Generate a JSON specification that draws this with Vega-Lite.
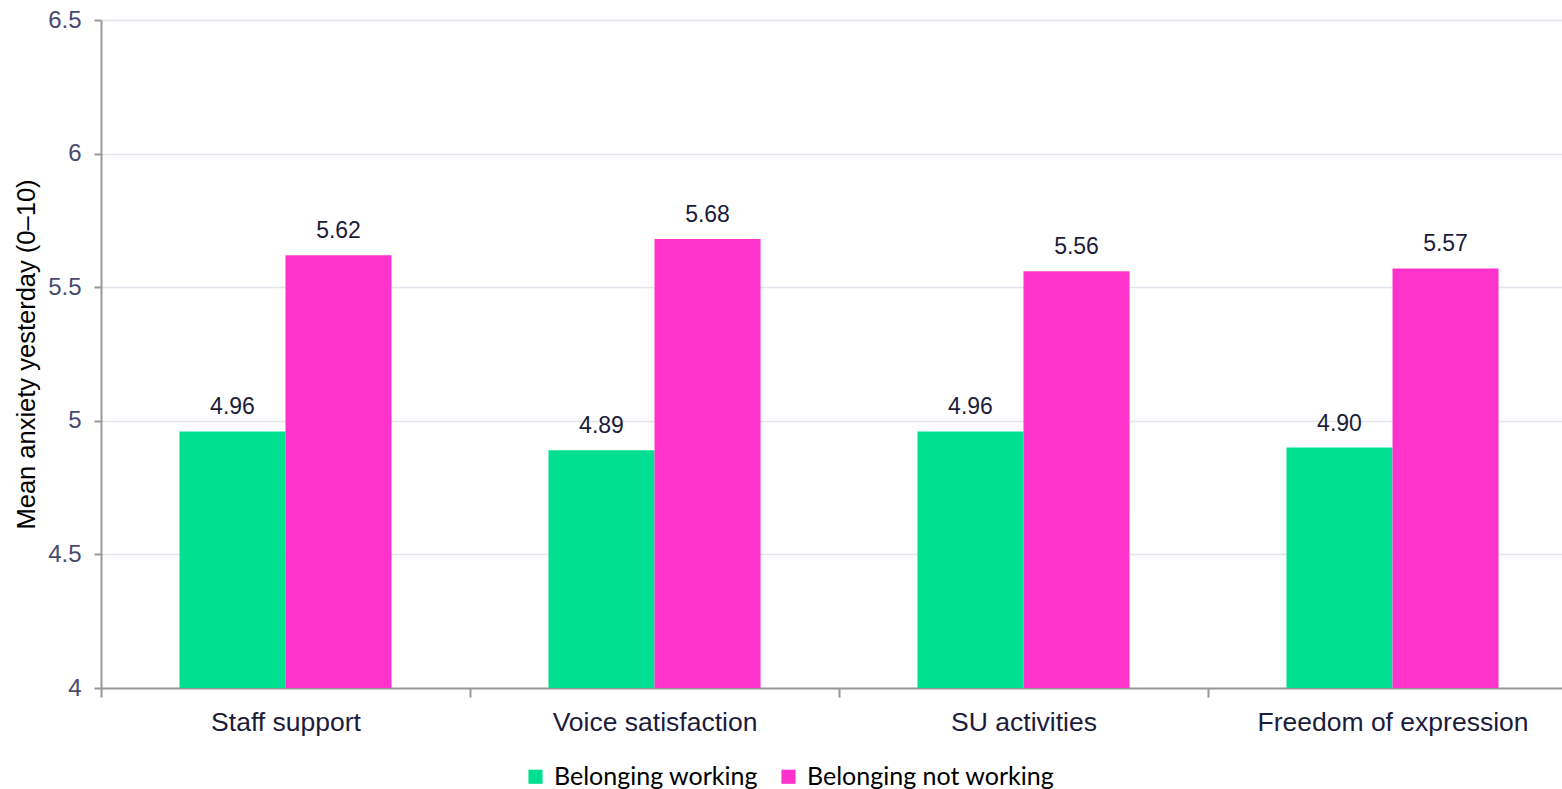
{
  "$schema": "https://vega.github.io/schema/vega-lite/v6.json",
  "width": 1461,
  "height": 668,
  "autosize": "none",
  "padding": {"left": 101, "top": 20, "right": 0, "bottom": 101},
  "background": "white",
  "config": {"view": {"stroke": null}},
  "data": {
    "values": [
      {"cat": "Staff support", "group": "Belonging working", "value": 4.96, "label": "4.96"},
      {"cat": "Staff support", "group": "Belonging not working", "value": 5.62, "label": "5.62"},
      {"cat": "Voice satisfaction", "group": "Belonging working", "value": 4.89, "label": "4.89"},
      {"cat": "Voice satisfaction", "group": "Belonging not working", "value": 5.68, "label": "5.68"},
      {"cat": "SU activities", "group": "Belonging working", "value": 4.96, "label": "4.96"},
      {"cat": "SU activities", "group": "Belonging not working", "value": 5.56, "label": "5.56"},
      {"cat": "Freedom of expression", "group": "Belonging working", "value": 4.90, "label": "4.90"},
      {"cat": "Freedom of expression", "group": "Belonging not working", "value": 5.57, "label": "5.57"}
    ]
  },
  "encoding": {
    "x": {
      "field": "cat", "type": "nominal",
      "sort": ["Staff support", "Voice satisfaction", "SU activities", "Freedom of expression"],
      "scale": {"paddingInner": 0, "paddingOuter": 0, "range": [0, 1476]},
      "axis": {
        "title": null, "labelAngle": 0, "labelFont": "Liberation Sans", "labelFontSize": 26.5,
        "labelColor": "#1c1c3a", "labelPadding": 12, "labelLimit": 0, "tickBand": "extent",
        "tickColor": "#999999", "tickWidth": 2, "tickSize": 9,
        "domainColor": "#999999", "domainWidth": 2, "grid": false
      }
    },
    "xOffset": {
      "field": "group", "type": "nominal",
      "sort": ["Belonging working", "Belonging not working"],
      "scale": {"paddingInner": 0, "paddingOuter": 0.74}
    },
    "y": {
      "field": "value", "type": "quantitative",
      "scale": {"domain": [4, 6.5], "nice": false, "zero": false},
      "axis": {
        "title": "Mean anxiety yesterday (0–10)", "titleFont": "Liberation Sans", "titleFontSize": 25.5,
        "titleFontWeight": "normal", "titleColor": "#000000", "titlePadding": 8,
        "values": [4, 4.5, 5, 5.5, 6, 6.5], "format": "~g",
        "labelFont": "Liberation Sans", "labelFontSize": 24, "labelColor": "#4a4a6e", "labelPadding": 13,
        "tickColor": "#999999", "tickWidth": 2, "tickSize": 7,
        "domainColor": "#999999", "domainWidth": 2,
        "gridColor": "#e4e4ec", "gridWidth": 1.5
      }
    }
  },
  "layer": [
    {
      "mark": {"type": "bar", "clip": true},
      "encoding": {
        "y2": {"datum": 4},
        "color": {
          "field": "group", "type": "nominal",
          "sort": ["Belonging working", "Belonging not working"],
          "scale": {"domain": ["Belonging working", "Belonging not working"], "range": ["#00e090", "#ff33cc"]},
          "legend": {
            "title": null, "orient": "none", "direction": "horizontal",
            "legendX": 422, "legendY": 744,
            "symbolType": "square", "symbolSize": 200, "symbolStrokeWidth": 0,
            "labelFont": "Lato", "labelFontSize": 25, "labelColor": "#000000", "labelLimit": 0,
            "columnPadding": 18, "labelOffset": 6
          }
        }
      }
    },
    {
      "mark": {"type": "text", "baseline": "alphabetic", "dy": -17, "font": "Liberation Sans", "fontSize": 23, "color": "#1c1c3a"},
      "encoding": {"text": {"field": "label"}}
    }
  ]
}
